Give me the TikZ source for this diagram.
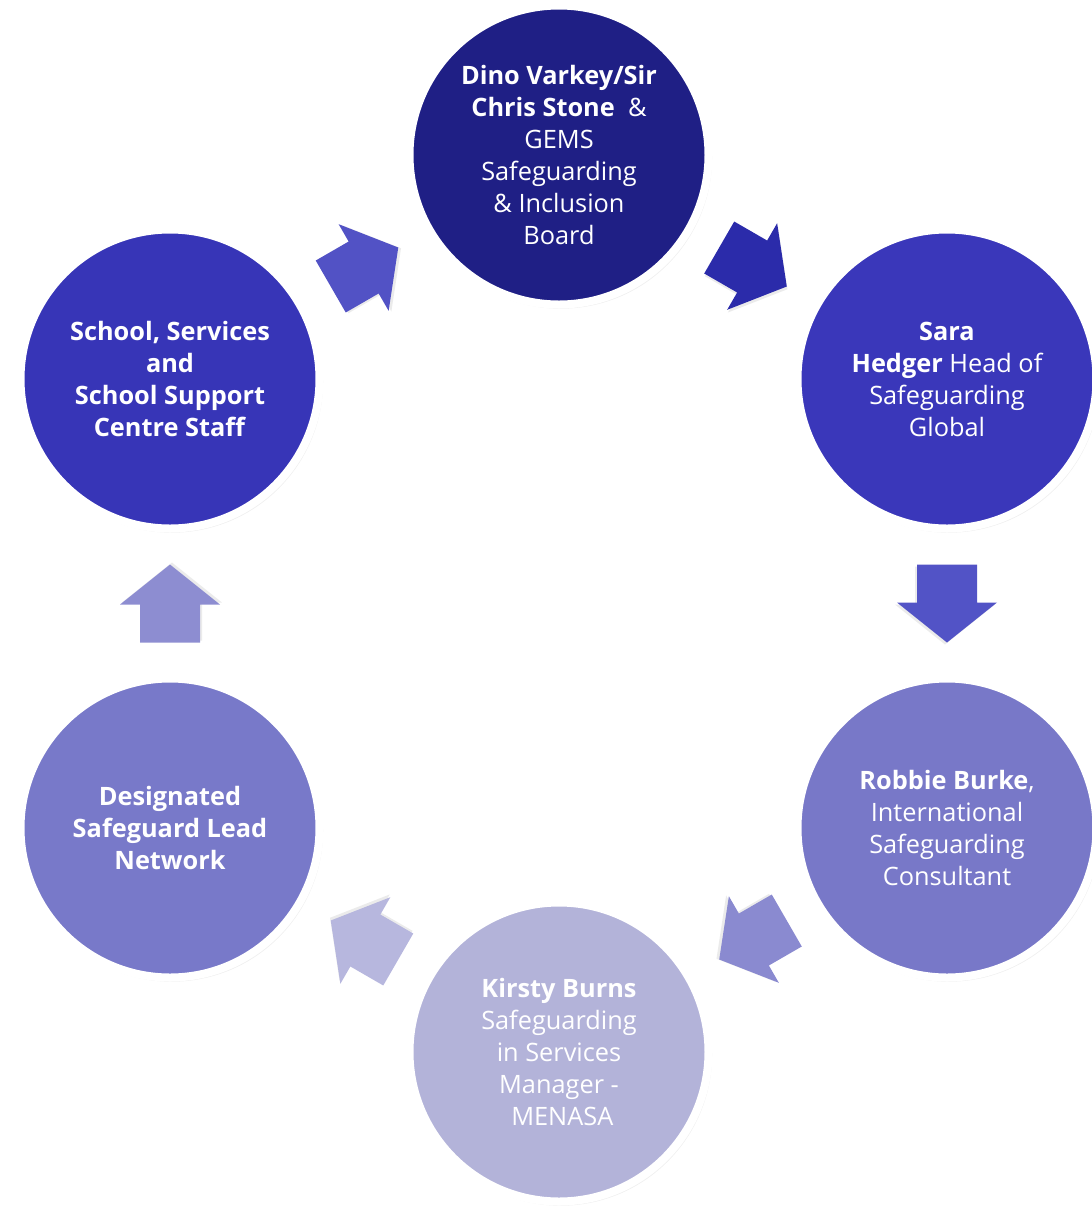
\documentclass[tikz,border=0pt]{standalone}
\usepackage{fontspec}
\setmainfont{Open Sans}
\usetikzlibrary{calc,shadows}
\definecolor{cTop}{RGB}{31,31,133}
\definecolor{cRT}{RGB}{58,55,186}
\definecolor{cRB}{RGB}{120,120,200}
\definecolor{cBot}{RGB}{179,179,217}
\definecolor{cLB}{RGB}{120,121,201}
\definecolor{cLT}{RGB}{55,53,183}
\definecolor{aTL}{RGB}{82,82,197}
\definecolor{aTR}{RGB}{43,43,170}
\definecolor{aR}{RGB}{82,83,198}
\definecolor{aBR}{RGB}{138,138,208}
\definecolor{aBL}{RGB}{183,183,222}
\definecolor{aL}{RGB}{141,141,209}
\tikzset{
  circ/.style={circle, minimum size=224.25pt, inner sep=0pt, draw=white, line width=6pt,
    text=white, align=center, font=\fontsize{19}{24}\selectfont,
    drop shadow={shadow xshift=1.5pt, shadow yshift=-2pt, opacity=0.12, shadow scale=1.01}},
  blockarrow/.pic={
    \fill[black, opacity=0.08] (41,2) -- (1,52) -- (1,32) -- (-37,32) -- (-37,-28) -- (1,-28) -- (1,-48) -- cycle;
    \fill[#1] (39,0) -- (-1,50) -- (-1,30) -- (-39,30) -- (-39,-30) -- (-1,-30) -- (-1,-50) -- cycle;
  }
}
\begin{document}
\begin{tikzpicture}[x=0.75pt,y=-0.75pt]
\useasboundingbox (0,0) rectangle (1092,1208);
\clip (0,0) rectangle (1092,1208);
\node[circ, fill=cTop] (top) at (559,155)
  {\textbf{Dino Varkey/Sir}\\ \textbf{Chris Stone}\ \ \&\\ GEMS\\ Safeguarding\\ \& Inclusion\\ Board};
\node[circ, fill=cRT] (rt) at (947,379)
  {\textbf{Sara}\\ \textbf{Hedger} Head of\\ Safeguarding\\ Global};
\node[circ, fill=cRB] (rb) at (947,828)
  {\textbf{Robbie Burke},\\ International\\ Safeguarding\\ Consultant};
\node[circ, fill=cBot] (bot) at (559,1052)
  {\textbf{Kirsty Burns}\\ Safeguarding\\ in Services\\ Manager -\\ \ MENASA};
\node[circ, fill=cLB] (lb) at (170,828)
  {\textbf{Designated}\\ \textbf{Safeguard Lead}\\ \textbf{Network}};
\node[circ, fill=cLT] (lt) at (170,379)
  {\textbf{School, Services}\\ \textbf{and}\\ \textbf{School Support}\\ \textbf{Centre Staff}};
\pic[rotate=30] at ($(lt)!0.5!(top)$) {blockarrow=aTL};
\pic[rotate=-30] at ($(top)!0.5!(rt)$) {blockarrow=aTR};
\pic[rotate=-90] at ($(rt)!0.5!(rb)$) {blockarrow=aR};
\pic[rotate=210] at ($(rb)!0.5!(bot)$) {blockarrow=aBR};
\pic[rotate=150] at ($(bot)!0.5!(lb)$) {blockarrow=aBL};
\pic[rotate=90] at ($(lb)!0.5!(lt)$) {blockarrow=aL};
\end{tikzpicture}
\end{document}
